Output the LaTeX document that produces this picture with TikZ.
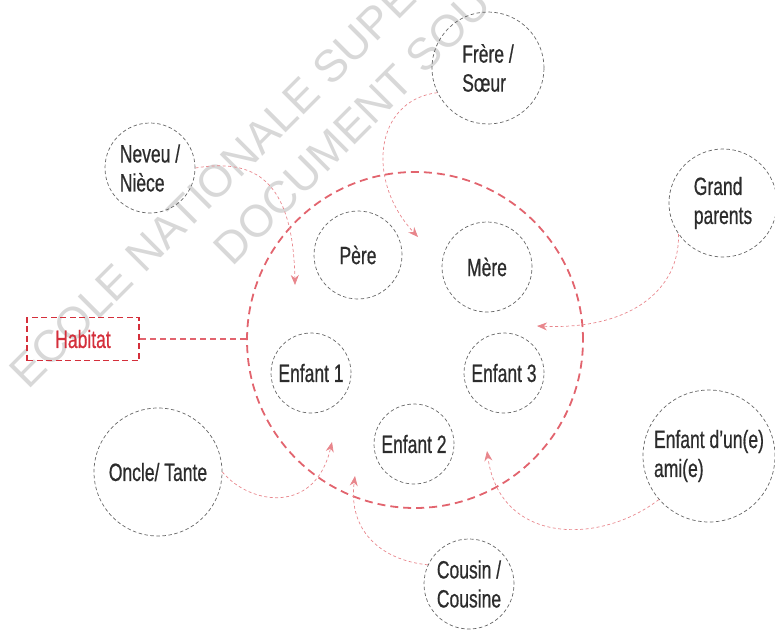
\documentclass[tikz,border=0pt]{standalone}
\usepackage{fontspec}
\setmainfont{Liberation Sans}[FakeStretch=0.70,FakeBold=0.6]
\newfontfamily\wmfont{Liberation Sans}
\usetikzlibrary{arrows.meta,calc}
\definecolor{txt}{HTML}{2C2C2C}
\definecolor{ring}{HTML}{666666}
\definecolor{homered}{HTML}{E2646E}
\definecolor{boxred}{HTML}{D42F3B}
\definecolor{arrowpink}{HTML}{E8868C}
\definecolor{wm}{HTML}{D8D8D8}
\begin{document}
\begin{tikzpicture}[x=1pt,y=-1pt,
  member/.style={circle, draw=ring, line width=0.7pt, dash pattern=on 3.5pt off 2.5pt,
    inner sep=0pt, text=txt, font=\fontsize{25}{29}\selectfont, align=left},
  homering/.style={circle, draw=homered, line width=1.8pt, dash pattern=on 8pt off 5pt, inner sep=0pt},
  habbox/.style={draw=boxred, line width=1.8pt, dash pattern=on 6pt off 3.5pt, text=boxred,
    minimum width=112pt, minimum height=43pt, inner sep=0pt, font=\fontsize{25}{29}\selectfont},
  link/.style={draw=homered, line width=1.5pt, dash pattern=on 6pt off 4pt},
  rel/.style={draw=arrowpink, line width=0.7pt, dash pattern=on 3pt off 2.5pt,
    -{Stealth[length=10pt,width=8pt]}},
  watermark/.style={text=wm, font=\wmfont\fontsize{45}{45}\selectfont, rotate=45,
    anchor=base west, inner sep=0pt}
]
\useasboundingbox (0,0) rectangle (775,629);

% watermark
\node[watermark] (wm1) at (28,391) {ECOLE NATIONALE SUPE};
\node[watermark] (wm2) at (232,268) {DOCUMENT SOU};

% nodes
\node[homering, minimum size=336pt] (home) at (415,340) {};
\node[habbox] (habitat) at (83,339) {Habitat};
\node[member, minimum size=90pt] (neveu) at (150,168) {Neveu /\\Nièce};
\node[member, minimum size=88pt] (pere) at (358,255) {Père};
\node[member, minimum size=112pt] (frere) at (488,68) {Frère /\\Sœur};
\node[member, minimum size=90pt] (mere) at (487,267) {Mère};
\node[member, minimum size=108pt] (grand) at (723,203) {Grand\\parents};
\node[member, minimum size=80pt] (e1) at (311,373) {Enfant 1};
\node[member, minimum size=80pt] (e2) at (414,444) {Enfant 2};
\node[member, minimum size=80pt] (e3) at (504,373) {Enfant 3};
\node[member, minimum size=128pt] (oncle) at (158,472) {Oncle/ Tante};
\node[member, minimum size=132pt] (ami) at (709,456) {Enfant d’un(e)\\ami(e)};
\node[member, minimum size=90pt] (cousin) at (469,584) {Cousin /\\Cousine};

% arrow targets
\coordinate (tneveu) at (295,285);
\coordinate (tfrere) at (418,237);
\coordinate (tgrand) at (537,326);
\coordinate (toncle) at (332,442);
\coordinate (tcousin) at (355,476);
\coordinate (tami) at (487,451);

% connectors
\draw[link] (habitat.east) -- (habitat.east -| home.west);
\draw[rel] (neveu.east) .. controls (255,158) and (293,180) .. (tneveu);
\draw[rel] (frere.206) .. controls (375,100) and (365,180) .. (tfrere);
\draw[rel] (grand.215) .. controls (680,290) and (630,330) .. (tgrand);
\draw[rel] (oncle.east) .. controls (250,505) and (315,515) .. (toncle);
\draw[rel] (cousin.155) .. controls (380,560) and (348,530) .. (tcousin);
\draw[rel] (ami.221) .. controls (600,545) and (500,545) .. (tami);
\end{tikzpicture}
\end{document}
